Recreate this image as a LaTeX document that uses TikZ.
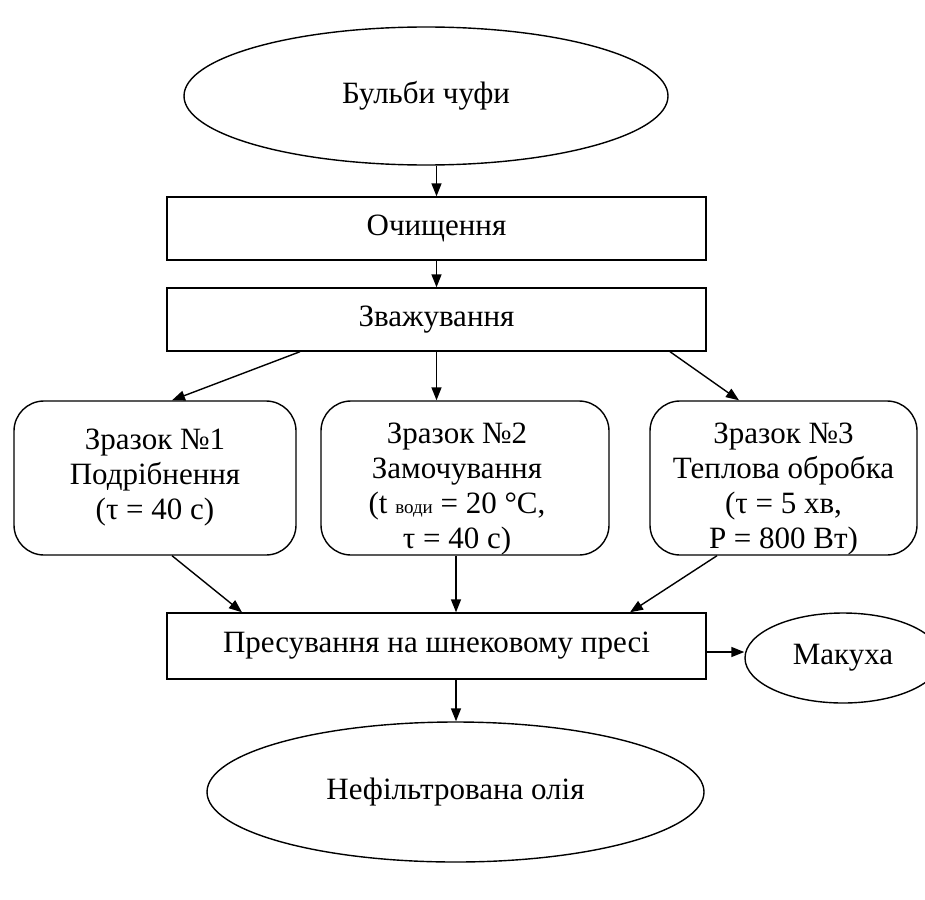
\documentclass[tikz,border=0pt]{standalone}
\usepackage{fontspec}
\setmainfont{Liberation Serif}
\usetikzlibrary{shapes.geometric,arrows.meta,calc}
\begin{document}
\begin{tikzpicture}[x=1pt,y=1pt,
  every node/.style={font=\fontsize{31}{35}\selectfont, inner sep=0pt, align=center},
  lw/.style={line width=1.4pt},
  oval/.style={ellipse, draw, lw},
  box/.style={rectangle, draw, lw},
  rbox/.style={rectangle, draw, lw, rounded corners=30pt},
  arr/.style={lw, -{Triangle[length=13pt,width=10pt]}}]
\useasboundingbox (0,0) rectangle (925,-899);
\node[oval, minimum width=484, minimum height=138] (top) at (426,-96) {Бульби чуфи};
\node[box, minimum width=539, minimum height=63] (clean) at (436.5,-228.5) {Очищення};
\node[box, minimum width=539, minimum height=63] (weigh) at (436.5,-319.5) {Зважування};
\node[rbox, minimum width=282, minimum height=154] (s1) at (155,-478) {Зразок №1\\Подрібнення\\(τ = 40 с)};
\node[rbox, minimum width=288, minimum height=154] (s2) at (465,-478) {};
\node (s2t) at ($(s2.center)+(-8,-11)$) {Зразок №2\\Замочування\\(t {\fontsize{19}{19}\selectfont води} = 20 °С,\\τ = 40 с)};
\node[rbox, minimum width=267, minimum height=154] (s3) at (783.5,-478) {};
\node (s3t) at ($(s3.center)+(0,-11)$) {Зразок №3\\Теплова обробка\\(τ = 5 хв,\\Р = 800 Вт)};
\node[box, minimum width=539, minimum height=66] (press) at (436.5,-646) {Пресування на шнековому пресі};
\node[oval, minimum width=196, minimum height=90] (cake) at (843,-658) {Макуха};
\node[oval, minimum width=497, minimum height=140] (oil) at (455.5,-792) {Нефільтрована олія};
\coordinate (pb) at ($(press.south)+(19.5,0)$);
\draw[arr] (top.south -| clean.north) -- (clean.north);
\draw[arr] (clean.south) -- (weigh.north);
\draw[arr] ($(weigh.south)+(-136.5,0)$) -- ($(s1.north)+(17,0)$);
\draw[arr] (weigh.south) -- (weigh.south |- s2.north);
\draw[arr] ($(weigh.south)+(233.5,0)$) -- ($(s3.north)+(-44.5,0)$);
\draw[arr] ($(s1.south)+(17,0)$) -- ($(press.north)+(-194.5,0)$);
\draw[arr] ($(s2.south)+(-9,0)$) -- ($(press.north)+(19.5,0)$);
\draw[arr] ($(s3.south)+(-66.5,0)$) -- ($(press.north)+(193.5,0)$);
\draw[arr] ($(press.east)+(0,-6)$) -- ($(cake.west)+(0,6)$);
\draw[arr] (pb) -- (pb |- oil.north);
\end{tikzpicture}
\end{document}
